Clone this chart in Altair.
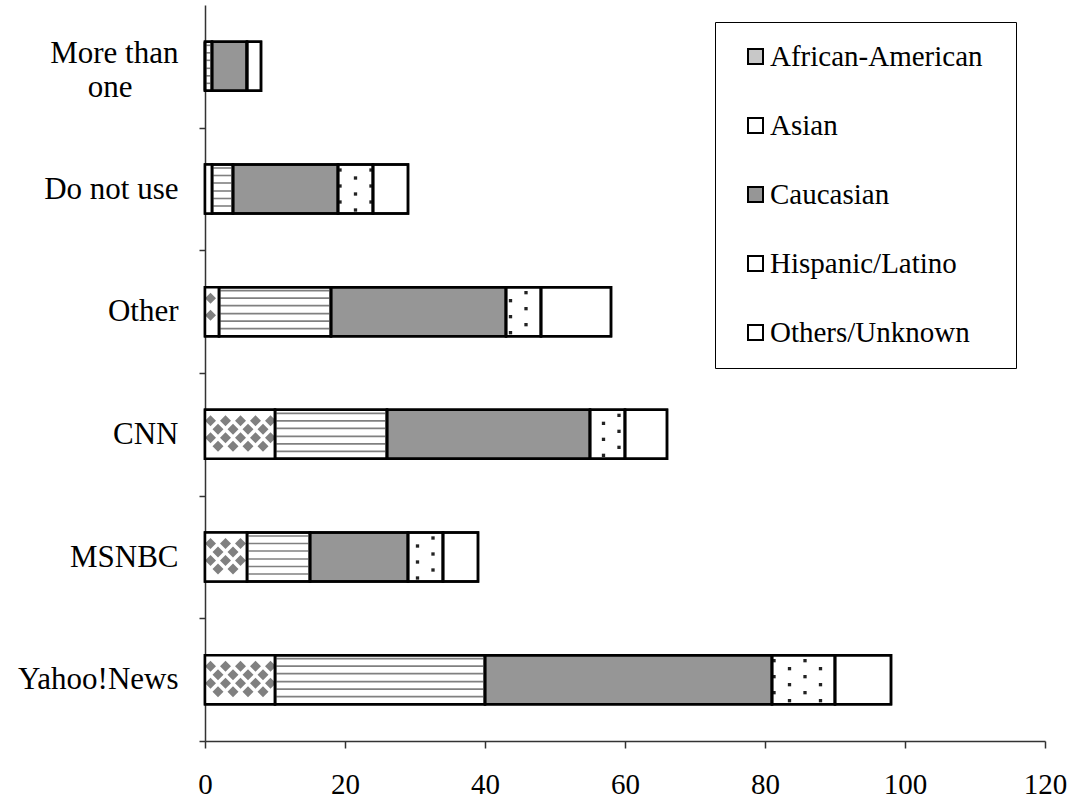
import altair as alt
import pandas as pd

# Sites, listed bottom to top
categories = ["Yahoo!News", "MSNBC", "CNN", "Other", "Do not use", "More than one"]
races = ["African-American", "Asian", "Caucasian", "Hispanic/Latino", "Others/Unknown"]

african_american = [10, 6, 10, 2, 1, 0]
asian = [30, 9, 16, 16, 3, 1]
caucasian = [41, 14, 29, 25, 15, 5]
hispanic = [9, 5, 5, 5, 5, 0]
others_unknown = [8, 5, 6, 10, 5, 2]

x_ticks = [0, 20, 40, 60, 80, 100, 120]

# Legend / base fills (patterned segments get their texture drawn on top)
fills = ["#c8c8c8", "#ffffff", "#969696", "#ffffff", "#ffffff"]

FONT = "Liberation Serif"
PLOT_W, PLOT_H = 840, 736
X_MAX = 120
PX = PLOT_W / X_MAX  # pixels per unit on the x scale
N = len(categories)
STEP = PLOT_H / N
BAND = STEP * 0.4          # bar thickness (paddingInner 0.6)
MID = BAND / 2             # pattern offsets are measured from the band start
BLANK = "\u2800"           # invisible filler used to pad label text

# Stacked segments
rows = []
series = [african_american, asian, caucasian, hispanic, others_unknown]
for i, site in enumerate(categories):
    left = 0
    for race, vals in zip(races, series):
        v = vals[i]
        rows.append({"site": site, "race": race, "start": left, "end": left + v, "value": v})
        left += v
seg = pd.DataFrame(rows)
aa_seg = seg[(seg.race == "African-American") & (seg.value > 0)]

# Hatching: horizontal grey lines inside the Asian segments
line_offsets = [-21, -13.5, -6, 2, 9.5, 17]
line_rows = []
for _, r in seg[(seg.race == "Asian") & (seg.value > 0)].iterrows():
    for off in line_offsets:
        line_rows.append({"site": r.site, "start": r.start, "end": r.end, "off": MID + off})
lines_df = pd.DataFrame(line_rows)

# Dotted fill for the Hispanic/Latino segments (staggered grid)
dot_offsets = [-19, -11, -3, 5, 13, 21]
dot_rows = []
for _, r in seg[(seg.race == "Hispanic/Latino") & (seg.value > 0)].iterrows():
    lo, hi = r.start * PX + 1.5, r.end * PX - 1.5
    for j, off in enumerate(dot_offsets):
        p = 11 if j % 2 == 0 else 26.5
        while p <= hi:
            if p >= lo:
                dot_rows.append({"site": r.site, "x": p / PX, "off": MID + off})
            p += 31
dots_df = pd.DataFrame(dot_rows)

# Diamond lattice for the African-American segments
dia_offsets = [-13.5, -5, 3.5, 12]
dia_rows = []
for _, r in aa_seg.iterrows():
    lo, hi = r.start * PX + 4, r.end * PX - 4
    for j, off in enumerate(dia_offsets):
        p = 5.5 if j % 2 == 0 else 13
        while p <= hi:
            if p >= lo:
                dia_rows.append({"site": r.site, "x": p / PX, "off": MID + off})
            p += 15
dia_df = pd.DataFrame(dia_rows)

top_to_bottom = categories[::-1]

y_enc = alt.Y(
    "site:N",
    sort=top_to_bottom,
    scale=alt.Scale(paddingInner=0.6, paddingOuter=0.3),
    axis=alt.Axis(
        title=None,
        tickOffset=STEP / 2,
        labelOffset={
            "condition": {"test": "datum.value == 'More than one'", "value": -STEP / 2 - 13},
            "value": -STEP / 2,
        },
        tickSize=6,
        labelPadding=21,
        labelFont=FONT,
        labelFontSize=31,
        labelColor="black",
        labelLimit=300,
        labelLineHeight=34,
        labelExpr=(
            "datum.value == 'More than one' ? ['More than', 'one" + BLANK * 2 + "'] : datum.value"
        ),
        domainColor="#333333",
        domainWidth=1.5,
        tickColor="#333333",
        tickWidth=1.5,
        grid=False,
    ),
)

x_scale = alt.Scale(domain=[0, X_MAX], nice=False)
x_axis = alt.Axis(
    title=None,
    values=x_ticks,
    tickSize=7,
    labelPadding=22,
    labelFont=FONT,
    labelFontSize=29,
    labelColor="black",
    labelFlush=False,
    domainColor="#333333",
    domainWidth=1.5,
    tickColor="#333333",
    tickWidth=1.5,
    grid=False,
)

bars = alt.Chart(seg).mark_bar(stroke="black", strokeWidth=2.5).encode(
    y=y_enc,
    x=alt.X("start:Q", scale=x_scale, axis=x_axis),
    x2="end:Q",
    fill=alt.Fill(
        "race:N",
        scale=alt.Scale(domain=races, range=fills),
        legend=alt.Legend(
            title=BLANK,
            titleOrient="right",
            titleFontSize=17,
            titlePadding=1,
            orient="none",
            legendX=510,
            legendY=17,
            labelFont=FONT,
            labelFontSize=29,
            labelColor="black",
            labelOffset=0,
            labelLimit=400,
            symbolType="square",
            symbolSize=225,
            symbolStrokeColor="black",
            symbolStrokeWidth=2,
            symbolOffset=6,
            rowPadding=39,
            padding=20,
            strokeColor="black",
            fillColor="white",
        ),
    ),
)

# White ground under the diamond texture
aa_ground = alt.Chart(aa_seg).mark_bar(fill="white").encode(
    y=y_enc,
    x=alt.X("start:Q", scale=x_scale, axis=x_axis),
    x2="end:Q",
)

diamonds = alt.Chart(dia_df).mark_point(
    shape="diamond", filled=True, size=121, color="#808080", opacity=1
).encode(
    y=y_enc,
    x=alt.X("x:Q", scale=x_scale, axis=x_axis),
    yOffset=alt.YOffset("off:Q", scale=None),
)

hatch = alt.Chart(lines_df).mark_rule(color="#808080", strokeWidth=1.6).encode(
    y=y_enc,
    x=alt.X("start:Q", scale=x_scale, axis=x_axis),
    x2="end:Q",
    yOffset=alt.YOffset("off:Q", scale=None),
)

dots = alt.Chart(dots_df).mark_square(size=11, color="#222222", opacity=1).encode(
    y=y_enc,
    x=alt.X("x:Q", scale=x_scale, axis=x_axis),
    yOffset=alt.YOffset("off:Q", scale=None),
)

outline = alt.Chart(seg).mark_bar(fillOpacity=0, stroke="black", strokeWidth=2.5).encode(
    y=y_enc,
    x=alt.X("start:Q", scale=x_scale, axis=x_axis),
    x2="end:Q",
)

chart = (
    alt.layer(bars, aa_ground, diamonds, hatch, dots, outline)
    .properties(
        width=PLOT_W,
        height=PLOT_H,
        autosize=alt.AutoSizeParams(type="none"),
        padding={"left": 205, "top": 5, "right": 30, "bottom": 62},
        background="white",
    )
    .configure_view(stroke=None)
)

chart.save("out.html", embed_options={"renderer": "svg", "actions": False})
